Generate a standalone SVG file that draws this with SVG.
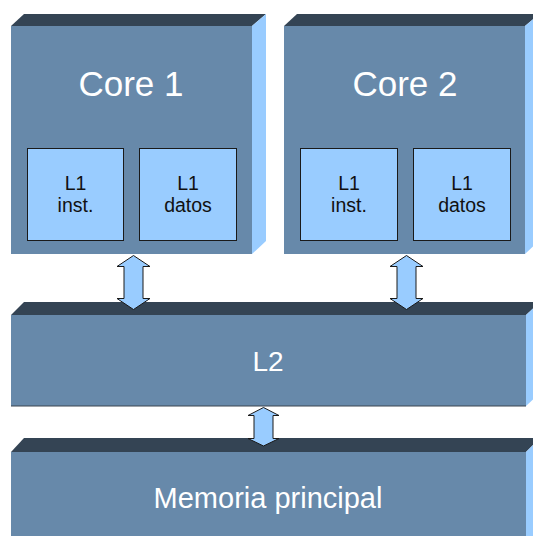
<svg xmlns="http://www.w3.org/2000/svg" width="533" height="536" viewBox="0 0 533 536">
<style>
.front{fill:#6789aa}
.top{fill:#344454}
.side{fill:#99ccff}
.l1{fill:#99ccff;stroke:#1a1a1a;stroke-width:1}
.arrow{fill:#99ccff;stroke:#1a1a1a;stroke-width:1;stroke-linejoin:miter}
.big{font-family:"Liberation Sans",Arial,sans-serif;fill:#ffffff;text-anchor:middle}
.small{font-family:"Liberation Sans",Arial,sans-serif;fill:#111111;text-anchor:middle;font-size:19.5px}
</style>
<rect width="533" height="536" fill="#ffffff"/>
<g id="core1">
<polygon class="top" points="11,26 24,14 266,14 252,26"/>
<polygon class="side" points="252,26 266,14 266,241 252,254"/>
<rect class="front" x="11" y="26" width="241" height="228"/>
<text class="big" x="131" y="96" font-size="35">Core 1</text>
</g>
<g id="core1-l1-inst">
<rect class="l1" x="27.5" y="148.5" width="96" height="92"/>
<text class="small" x="75.5" y="190">L1</text>
<text class="small" x="75.5" y="212">inst.</text>
</g>
<g id="core1-l1-datos">
<rect class="l1" x="139.5" y="148.5" width="97" height="92"/>
<text class="small" x="188" y="190">L1</text>
<text class="small" x="188" y="212">datos</text>
</g>
<g id="core2">
<polygon class="top" points="284,26 297,14 539,14 525,26"/>
<polygon class="side" points="525,26 539,14 539,241 525,254"/>
<rect class="front" x="284" y="26" width="241" height="228"/>
<text class="big" x="405" y="96" font-size="35">Core 2</text>
</g>
<g id="core2-l1-inst">
<rect class="l1" x="300.5" y="148.5" width="97" height="92"/>
<text class="small" x="349" y="190">L1</text>
<text class="small" x="349" y="212">inst.</text>
</g>
<g id="core2-l1-datos">
<rect class="l1" x="413.5" y="148.5" width="97" height="92"/>
<text class="small" x="462" y="190">L1</text>
<text class="small" x="462" y="212">datos</text>
</g>
<g id="l2">
<polygon class="top" points="11,315 24,302 540,302 526,315"/>
<polygon class="side" points="526,315 540,302 540,393 526,406"/>
<rect class="front" x="11" y="315" width="515" height="91"/>
<line x1="11" y1="406" x2="526" y2="406" stroke="#3a4550" stroke-width="1"/>
<text class="big" x="268" y="371" font-size="28">L2</text>
</g>
<g id="memoria">
<polygon class="top" points="11,452 24,438 540,438 526,452"/>
<polygon class="side" points="526,452 540,438 540,536 526,536"/>
<rect class="front" x="11" y="452" width="515" height="84"/>
<text class="big" x="268" y="508" font-size="29">Memoria principal</text>
</g>
<g id="connectors">
<polygon class="arrow" points="133.5,255.5 150,266.5 143,266.5 143,298.5 150,298.5 133.5,309.5 117,298.5 124,298.5 124,266.5 117,266.5"/>
<polygon class="arrow" points="406.5,255.5 423,266.5 416,266.5 416,298.5 423,298.5 406.5,309.5 390,298.5 397,298.5 397,266.5 390,266.5"/>
<polygon class="arrow" points="263.5,407.5 279,415.5 273,415.5 273,438.5 279,438.5 263.5,446 248,438.5 254,438.5 254,415.5 248,415.5"/>
</g>
</svg>
